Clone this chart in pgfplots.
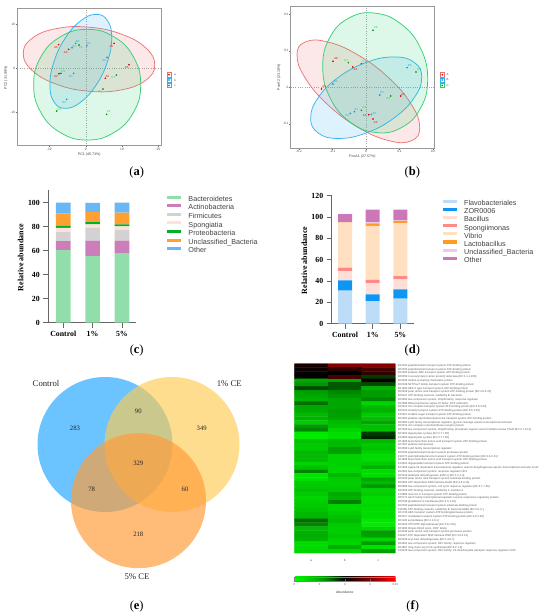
\documentclass[border=0pt]{standalone}
\usepackage{fontspec}
\usepackage{pgfplots}
\pgfplotsset{compat=1.18}
\setmainfont{Liberation Serif}
\newfontfamily\arial{Liberation Sans}
\usepgfplotslibrary{colormaps}

\definecolor{pcared}{RGB}{238,110,110}
\definecolor{pcablue}{RGB}{50,175,240}
\definecolor{pcagreen}{RGB}{45,205,110}
\definecolor{venna}{RGB}{57,176,255}
\definecolor{vennb}{RGB}{255,203,81}
\definecolor{vennc}{RGB}{255,156,56}
% bars (c)
\definecolor{cbact}{RGB}{146,222,170}
\definecolor{cacti}{RGB}{204,126,186}
\definecolor{cfirm}{RGB}{210,210,210}
\definecolor{cspon}{RGB}{255,225,218}
\definecolor{cprot}{RGB}{0,176,40}
\definecolor{cuncl}{RGB}{255,160,50}
\definecolor{coth}{RGB}{104,184,248}
% bars (d)
\definecolor{dflav}{RGB}{188,220,248}
\definecolor{dzor}{RGB}{15,150,245}
\definecolor{dbac}{RGB}{255,222,216}
\definecolor{dspo}{RGB}{255,136,136}
\definecolor{dvib}{RGB}{255,224,192}
\definecolor{dlac}{RGB}{255,155,35}
\definecolor{duncl}{RGB}{235,200,240}
\definecolor{doth}{RGB}{204,120,184}

\newcommand\ptlab[3]{\node[text=#3,font=\arial\fontsize{2.9}{3}\selectfont,inner sep=0pt] at (axis cs:#1) {#2};}

\pgfplotsset{
  pcaaxis/.style={
    scale only axis, anchor=south west,
    axis line style={draw=black!40,line width=1pt},
    tick style={draw=black!60,line width=.3pt},
    major tick length=1.5pt,
    tick align=outside, tick pos=left,
    ticklabel style={font=\arial\fontsize{3.2}{4}\selectfont,text=black!70,inner sep=.5pt},
    /pgf/number format/assume math mode=true,
    label style={font=\arial\fontsize{3.6}{4}\selectfont,text=black!75},
  },
  ell/.style={smooth cycle,tension=.75,line width=.75pt,draw=#1,fill=#1,fill opacity=.16,draw opacity=.95,mark=none},
  dot/.style={only marks,mark=*,mark size=.6pt,draw=#1,fill=#1},
  zero/.style={black!35,dotted,line width=.3pt,mark=none,forget plot},
  baraxis/.style={
    scale only axis, anchor=south west,
    ybar stacked, ymin=0,
    xtick={0,1,2}, xticklabels={Control,1\%,5\%},
    axis x line=bottom, axis y line=left,
    axis line style={-,draw=black!60,line width=1.1pt},
    tick style={draw=black!60,line width=.8pt},
    major tick length=5pt, tick align=outside,
    ticklabel style={font=\bfseries\fontsize{7.8}{9}\selectfont},
    /pgf/number format/assume math mode=true,
    ylabel={Relative abundance},
    ylabel style={font=\bfseries\fontsize{8}{9}\selectfont},
    legend cell align=left,
    legend style={draw=none,fill=none,inner sep=0pt,anchor=north west,
      font=\arial\fontsize{7.2}{8}\selectfont,text=black!75,
      nodes={inner sep=0pt,text height=5pt,text depth=1pt},
      /tikz/column 1/.style={column sep=7.6pt}},
  },
  lg/.style={draw=none,fill=#1,legend image code/.code={\fill[#1] (0pt,.7pt) rectangle (14pt,3.8pt);}},
  ov/.style={scale only axis, anchor=south west, at={(0pt,0pt)}, width=550pt, height=615pt,
    xmin=0, xmax=550, ymin=0, ymax=615, y dir=reverse, hide axis, clip=false},
}

\begin{document}
\begin{tikzpicture}[x=1pt,y=1pt]
\path[use as bounding box] (0,0) rectangle (550,615);

% (a) PCA
\begin{axis}[pcaaxis, at={(17.3pt,469pt)}, width=144pt, height=137pt,
  xmin=-18.8, xmax=20.8, ymin=-17.65, ymax=13.5,
  xtick={-10,0,10,20}, ytick={-10,0,10},
  xlabel={PC1 (45.73\%)}, ylabel={PC2 (31.99\%)},
  xlabel style={at={(axis description cs:.5,-.06)},anchor=center},
  ylabel style={at={(axis description cs:-.078,.4985)},anchor=center},
]
\addplot[zero] coordinates {(0,-17.65) (0,13.5)};
\addplot[zero] coordinates {(-18.8,0) (20.8,0)};
\addplot[ell=pcared] coordinates {(18.99,.79) (16.57,4.61) (9.96,7.74) (.92,9.36) (-8.12,9.03) (-14.73,6.83) (-17.15,3.37) (-14.73,-.45) (-8.12,-3.58) (.92,-5.20) (9.96,-4.87) (16.57,-2.67)};
\addplot[ell=pcablue] coordinates {(7.16,6.93) (6.02,10.84) (2.92,12.27) (-1.33,10.84) (-5.58,6.93) (-8.68,1.59) (-9.82,-3.75) (-8.68,-7.66) (-5.58,-9.09) (-1.33,-7.66) (2.92,-3.75) (6.02,1.59)};
\addplot[ell=pcagreen] coordinates {(15.13,-3.71) (13.16,2.58) (7.77,7.18) (.41,8.87) (-6.95,7.18) (-12.34,2.58) (-14.31,-3.71) (-12.34,-10.0) (-6.95,-14.6) (.41,-16.29) (7.77,-14.6) (13.16,-10.0)};
\addplot[dot=red!85!black] coordinates {(7.80,5.68) (-7.34,-1.21) (-4.68,4.32) (5.41,-2.27) (11.93,.83) (-7.43,5.38)};
\addplot[dot=pcablue!80!black] coordinates {(.28,5.15) (-2.75,5.68) (-3.76,4.70) (-5.23,-7.05) (5.87,2.50) (-3.30,-1.14)};
\addplot[dot=green!60!black] coordinates {(8.44,-1.52) (5.78,-10.45) (-6.79,-1.14) (4.77,-4.70) (-1.83,5.30) (-7.98,-9.70)};
\ptlab{7.06,5.08}{A1}{red}\ptlab{-8.17,-1.82}{A2}{red}\ptlab{-5.50,3.71}{A3}{red}
\ptlab{5.96,-1.82}{A4}{red}\ptlab{11.28,.23}{A5}{red}\ptlab{-8.17,4.70}{A6}{red}
\ptlab{.92,5.68}{B1}{pcablue}\ptlab{-2.20,6.14}{B2}{pcablue}\ptlab{-3.12,5.08}{B3}{pcablue}
\ptlab{-5.87,-7.65}{B4}{pcablue}\ptlab{5.14,1.89}{B5}{pcablue}\ptlab{-4.04,-1.74}{B6}{pcablue}
\ptlab{7.61,-2.12}{C1}{pcagreen}\ptlab{6.33,-9.92}{C2}{pcagreen}\ptlab{-6.15,-.68}{C3}{pcagreen}
\ptlab{3.94,-5.23}{C4}{pcagreen}\ptlab{-1.28,4.70}{C5}{pcagreen}\ptlab{-7.25,-9.24}{C6}{pcagreen}
\end{axis}

% (b) PCoA
\begin{axis}[pcaaxis, at={(290.7pt,466.7pt)}, width=143.3pt, height=142pt,
  xmin=-.225, xmax=.203, ymin=-.167, ymax=.222,
  xtick={-.2,-.1,0,.1,.2}, ytick={-.1,0,.1,.2},
  xticklabel style={/pgf/number format/fixed,/pgf/number format/precision=1},
  yticklabel style={/pgf/number format/fixed,/pgf/number format/precision=1},
  scaled ticks=false,
  xlabel={PcoA1 (27.57\%)}, ylabel={PcoA2 (23.18\%)},
  xlabel style={at={(axis description cs:.5,-.06)},anchor=center},
  ylabel style={at={(axis description cs:-.082,.5)},anchor=center},
]
\addplot[zero] coordinates {(0,-.167) (0,.222)};
\addplot[zero] coordinates {(-.225,0) (.203,0)};
\addplot[ell=pcared] coordinates {(.1602,-.110) (.1357,-.0473) (.0687,.0253) (-.0229,.0880) (-.1145,.1242) (-.1815,.1242) (-.2060,.0880) (-.1815,.0253) (-.1145,-.0473) (-.0229,-.110) (.0687,-.1462) (.1357,-.1462)};
\addplot[ell=pcablue] coordinates {(.1662,.0274) (.1440,.0682) (.0834,.0832) (.0005,.0682) (-.0824,.0274) (-.1430,-.0284) (-.1652,-.0842) (-.1430,-.1250) (-.0824,-.14) (.0005,-.1250) (.0834,-.0842) (.1440,-.0284)};
\addplot[ell=pcagreen] coordinates {(.1841,.0226) (.1631,.1066) (.1058,.1726) (.0274,.2032) (-.0510,.1899) (-.1083,.1363) (-.1293,.0570) (-.1083,-.0270) (-.0510,-.0930) (.0274,-.1236) (.1058,-.1103) (.1631,-.0567)};
\addplot[dot=red!85!black] coordinates {(-.0985,.0714) (-.0398,.0558) (-.1333,-.0046) (.0080,-.0750) (.0209,-.0869) (.1035,-.0238)};
\addplot[dot=pcablue!80!black] coordinates {(-.0985,.0091) (.0408,-.0210) (.1224,.0540) (-.0348,-.0668) (-.0468,-.0714) (.0159,-.0741)};
\addplot[dot=green!60!black] coordinates {(-.0527,.0677) (-.0139,.0650) (.0736,-.0238) (-.0139,-.0631) (.0209,.1565) (.1493,.0421)};
\ptlab{-.0040,-.0778}{A1}{red}\ptlab{.1104,-.0183}{A2}{red}\ptlab{.0289,-.0952}{A3}{red}
\ptlab{-.0318,.0485}{A4}{red}\ptlab{-.1254,.0009}{A5}{red}\ptlab{-.0896,.0778}{A6}{red}
\ptlab{-.0557,-.0778}{B1}{pcablue}\ptlab{-.0289,-.0604}{B2}{pcablue}\ptlab{.0259,-.0704}{B3}{pcablue}
\ptlab{.0478,-.0146}{B4}{pcablue}\ptlab{.1303,.0604}{B5}{pcablue}\ptlab{-.0896,.0156}{B6}{pcablue}
\ptlab{-.0597,.0732}{C1}{pcagreen}\ptlab{.0667,-.0311}{C2}{pcagreen}\ptlab{-.0050,-.0558}{C3}{pcagreen}
\ptlab{-.0060,.0704}{C4}{pcagreen}\ptlab{.1582,.0476}{C5}{pcagreen}\ptlab{.0289,.1638}{C6}{pcagreen}
\end{axis}

% (c) phyla
\begin{axis}[baraxis, at={(48.3pt,292.3pt)}, width=87.7pt, height=132.7pt,
  bar width=14.67pt, xmin=-.51, xmax=2.48, ymax=110.6, ytick={0,20,40,60,80,100},
  ylabel style={at={(axis description cs:-.315,.491)},anchor=center},
  legend style={at={(axis description cs:1.35,.96)},row sep=1.8pt},
]
\addplot[lg=cbact] coordinates {(0,60.5) (1,55.5) (2,57.5)};
\addplot[lg=cacti] coordinates {(0,7.5) (1,13) (2,11)};
\addplot[lg=cfirm] coordinates {(0,7.5) (1,10.5) (2,9)};
\addplot[lg=cspon] coordinates {(0,3.5) (1,3) (2,2.8)};
\addplot[lg=cprot] coordinates {(0,2) (1,1.8) (2,1.7)};
\addplot[lg=cuncl] coordinates {(0,10) (1,8.5) (2,9.7)};
\addplot[lg=coth] coordinates {(0,9) (1,7.5) (2,8.3)};
\legend{Bacteroidetes,Actinobacteria,Firmicutes,Spongiatia,Proteobacteria,Unclassified\_Bacteria,Other}
\end{axis}

% (d) genera
\begin{axis}[baraxis, at={(331.7pt,291.3pt)}, width=82.6pt, height=128pt,
  bar width=14pt, xmin=-.48, xmax=2.5, ymax=120, ytick={0,20,40,60,80,100,120},
  ylabel style={at={(axis description cs:-.332,.495)},anchor=center},
  legend style={at={(axis description cs:1.339,.968)},row sep=1.3pt},
]
\addplot[lg=dflav] coordinates {(0,31) (1,21) (2,23.4)};
\addplot[lg=dzor] coordinates {(0,9.6) (1,6.5) (2,8.8)};
\addplot[lg=dbac] coordinates {(0,8.8) (1,10.6) (2,9.4)};
\addplot[lg=dspo] coordinates {(0,3.1) (1,2.9) (2,3.1)};
\addplot[lg=dvib] coordinates {(0,42.2) (1,50.6) (2,49.7)};
\addplot[lg=dlac] coordinates {(0,.3) (1,2.4) (2,1.9)};
\addplot[lg=duncl] coordinates {(0,.3) (1,.9) (2,.9)};
\addplot[lg=doth] coordinates {(0,7.5) (1,12) (2,9.8)};
\legend{Flavobacteriales,ZOR0006,Bacillus,Spongiimonas,Vibrio,Lactobacillus,Unclassified\_Bacteria,Other}
\end{axis}

% (f) heatmap
\begin{axis}[scale only axis, anchor=south west, at={(294.3pt,62pt)}, width=101pt, height=189.3pt,
  y dir=reverse, xmin=.5, xmax=3.5, ymin=.5, ymax=50.5,
  axis line style={draw=none}, tick style={draw=none}, major tick length=0pt,
  xtick={1,2,3}, xticklabels={a,b,c},
  xticklabel pos=lower, yticklabel pos=right,
  xticklabel style={font=\arial\fontsize{3}{3}\selectfont,text=black!70,yshift=-3pt},
  ytick={1,...,50},
  yticklabel style={font=\arial\fontsize{2.75}{3}\selectfont,text=black!65,anchor=west,inner sep=0pt,xshift=2.4pt},
  yticklabels={
{K02031 peptide/nickel transport system ATP-binding protein},
{K02032 peptide/nickel transport system ATP-binding protein},
{K02003 putative ABC transport system ATP-binding protein},
{K00059 3-oxoacyl-[acyl-carrier protein] reductase [EC:1.1.1.100]},
{K03406 methyl-accepting chemotaxis protein},
{K02049 NitT/TauT family transport system ATP-binding protein},
{K01990 ABC-2 type transport system ATP-binding protein},
{K02028 polar amino acid transport system ATP-binding protein [EC:3.6.3.21]},
{K06147 ATP-binding cassette, subfamily B, bacterial},
{K02483 two-component system, OmpR family, response regulator},
{K03088 RNA polymerase sigma-70 factor, ECF subfamily},
{K02013 iron complex transport system ATP-binding protein [EC:3.6.3.34]},
{K02010 iron(III) transport system ATP-binding protein [EC:3.6.3.30]},
{K10112 multiple sugar transport system ATP-binding protein},
{K02052 putative spermidine/putrescine transport system ATP-binding protein},
{K02660 LysR family transcriptional regulator, glycine cleavage system transcriptional activator},
{K02014 iron complex outermembrane receptor protein},
{K07636 two-component system, OmpR family, phosphate regulon sensor histidine kinase PhoR [EC:2.7.13.3]},
{K01923 diguanylate cyclase [EC:2.7.7.65]},
{K13590 diguanylate cyclase [EC:2.7.7.65]},
{K01995 branched-chain amino acid transport system ATP-binding protein},
{K07497 putative transposase},
{K03566 LysR family transcriptional regulator},
{K02033 peptide/nickel transport system permease protein},
{K11072 spermidine/putrescine transport system ATP-binding protein [EC:3.6.3.31]},
{K01996 branched-chain amino acid transport system ATP-binding protein},
{K15823 oligopeptide transport system ATP-binding protein},
{K21405 sigma-54 dependent transcriptional regulator, acetoin dehydrogenase operon transcriptional activator AcoR},
{K02481 two-component system, response regulator NtrX},
{K00128 aldehyde dehydrogenase (NAD+) [EC:1.2.1.3]},
{K02030 polar amino acid transport system substrate-binding protein},
{K05592 ATP-dependent RNA helicase DeaD [EC:3.6.4.13]},
{K02668 two-component system, cell cycle response regulator [EC:2.7.7.65]},
{K06158 ATP-binding cassette, subfamily F, member 3},
{K13896 microcin C transport system ATP-binding protein},
{K05771 AsnC family transcriptional regulator, leucine-responsive regulatory protein},
{K00799 glutathione S-transferase [EC:2.5.1.18]},
{K02035 peptide/nickel transport system substrate-binding protein},
{K11085 ATP-binding cassette, subfamily B, bacterial MsbA [EC:3.6.3.-]},
{K01736 ABC transport system ATP-binding/permease protein},
{K02017 molybdate transport system ATP-binding protein [EC:3.6.3.29]},
{K01130 arylsulfatase [EC:3.1.6.1]},
{K02428 XTP/dITP diphosphatase [EC:3.6.1.66]},
{K03286 OmpA-OmpF porin, OOP family},
{K02029 polar amino acid transport system permease protein},
{K11927 ATP-dependent RNA helicase RhlE [EC:3.6.4.13]},
{K00249 acyl-CoA dehydrogenase [EC:1.3.8.7]},
{K02481 two-component system, NtrC family, response regulator},
{K01897 long-chain acyl-CoA synthetase [EC:6.2.1.3]},
{K10126 two-component system, NtrC family, C4-dicarboxylate transport response regulator DctD}},
  colormap={gbr}{rgb255(0cm)=(0,255,0); rgb255(6cm)=(0,150,0); rgb255(10cm)=(0,0,0); rgb255(20cm)=(255,0,0)},
  point meta min=0, point meta max=1,
  colorbar horizontal,
  colorbar style={
    at={(0,-.125)}, anchor=north west, width=101pt, height=4.3pt,
    xtick={0,.25,.5,.75,1}, xticklabels={0,0,0,0,0.01},
    axis line style={draw=black!50,line width=.3pt}, tick style={draw=black!60,line width=.25pt},
    major tick length=1.5pt, xticklabel pos=lower,
    xticklabel style={font=\arial\fontsize{2.8}{3}\selectfont,text=black!70,yshift=.5pt},
    xlabel={Abundance},
    xlabel style={font=\arial\fontsize{3.4}{4}\selectfont,text=black!75,yshift=1.5pt},
  },
]
\addplot[matrix plot*, mesh/cols=3, point meta=explicit] coordinates {
(1,1)[.55] (2,1)[.76] (3,1)[.76]
(1,2)[.52] (2,2)[.60] (3,2)[.63]
(1,3)[.50] (2,3)[.50] (3,3)[.60]
(1,4)[.50] (2,4)[.64] (3,4)[.42]
(1,5)[.25] (2,5)[.25] (3,5)[.53]
(1,6)[.30] (2,6)[.38] (3,6)[.40]
(1,7)[.40] (2,7)[.38] (3,7)[.22]
(1,8)[.28] (2,8)[.32] (3,8)[.28]
(1,9)[.25] (2,9)[.30] (3,9)[.28]
(1,10)[.22] (2,10)[.25] (3,10)[.32]
(1,11)[.35] (2,11)[.25] (3,11)[.12]
(1,12)[.25] (2,12)[.25] (3,12)[.20]
(1,13)[.24] (2,13)[.28] (3,13)[.22]
(1,14)[.20] (2,14)[.27] (3,14)[.15]
(1,15)[.22] (2,15)[.25] (3,15)[.18]
(1,16)[.15] (2,16)[.20] (3,16)[.25]
(1,17)[.28] (2,17)[.17] (3,17)[.18]
(1,18)[.32] (2,18)[.12] (3,18)[.18]
(1,19)[.06] (2,19)[.09] (3,19)[.42]
(1,20)[.06] (2,20)[.09] (3,20)[.45]
(1,21)[.18] (2,21)[.20] (3,21)[.20]
(1,22)[.15] (2,22)[.20] (3,22)[.15]
(1,23)[.15] (2,23)[.27] (3,23)[.17]
(1,24)[.20] (2,24)[.27] (3,24)[.13]
(1,25)[.20] (2,25)[.13] (3,25)[.10]
(1,26)[.20] (2,26)[.13] (3,26)[.10]
(1,27)[.12] (2,27)[.13] (3,27)[.15]
(1,28)[.18] (2,28)[.12] (3,28)[.22]
(1,29)[.32] (2,29)[.12] (3,29)[.10]
(1,30)[.08] (2,30)[.20] (3,30)[.10]
(1,31)[.08] (2,31)[.15] (3,31)[.25]
(1,32)[.15] (2,32)[.14] (3,32)[.20]
(1,33)[.15] (2,33)[.15] (3,33)[.30]
(1,34)[.18] (2,34)[.16] (3,34)[.12]
(1,35)[.15] (2,35)[.24] (3,35)[.14]
(1,36)[.12] (2,36)[.22] (3,36)[.10]
(1,37)[.14] (2,37)[.33] (3,37)[.10]
(1,38)[.15] (2,38)[.12] (3,38)[.12]
(1,39)[.17] (2,39)[.12] (3,39)[.10]
(1,40)[.20] (2,40)[.15] (3,40)[.10]
(1,41)[.20] (2,41)[.18] (3,41)[.10]
(1,42)[.36] (2,42)[.20] (3,42)[.06]
(1,43)[.32] (2,43)[.15] (3,43)[.05]
(1,44)[.20] (2,44)[.14] (3,44)[.12]
(1,45)[.22] (2,45)[.14] (3,45)[.27]
(1,46)[.23] (2,46)[.16] (3,46)[.27]
(1,47)[.22] (2,47)[.13] (3,47)[.12]
(1,48)[.10] (2,48)[.12] (3,48)[.28]
(1,49)[.10] (2,49)[.22] (3,49)[.08]
(1,50)[.12] (2,50)[.12] (3,50)[.27]
};
\end{axis}

% overlay in pixel coordinates: Venn (e), small legend keys
\begin{axis}[ov]
\addplot[only marks,mark=*,mark size=67.5pt,mark options={draw=venna,draw opacity=0,line width=0pt,fill=venna,fill opacity=.75}] coordinates {(105,444.5)};
\addplot[only marks,mark=*,mark size=67.5pt,mark options={draw=vennb,draw opacity=0,line width=0pt,fill=vennb,fill opacity=.65}] coordinates {(172,444.5)};
\addplot[only marks,mark=*,mark size=67.5pt,mark options={draw=vennc,draw opacity=0,line width=0pt,fill=vennc,fill opacity=.68}] coordinates {(138.5,500.7)};
\addplot[only marks,mark=square,mark size=2.2pt,mark options={draw=pcared,line width=.4pt}] coordinates {(169,74.7) (442.3,74.7)};
\addplot[only marks,mark=square,mark size=2.2pt,mark options={draw=pcablue,line width=.4pt}] coordinates {(169,80) (442.3,80)};
\addplot[only marks,mark=square,mark size=2.2pt,mark options={draw=pcagreen,line width=.4pt}] coordinates {(169,85.5) (442.3,85.5)};
\addplot[dot=red!85!black] coordinates {(169,74.7) (442.3,74.7)};
\addplot[dot=pcablue!80!black] coordinates {(169,80) (442.3,80)};
\addplot[dot=green!60!black] coordinates {(169,85.5) (442.3,85.5)};
\end{axis}

% texts of the overlay, on top of the circles
\begin{axis}[ov]
\addplot[draw=none,mark=none,forget plot] coordinates {(0,0) (550,615)};
\foreach \xx/\yy/\tt in {175/74.7/a,175/80/b,175/85.5/c,447.7/74.7/A,447.7/80/B,447.7/85.5/C}{
  \edef\tmp{\noexpand\node[font=\noexpand\arial\noexpand\fontsize{2.9}{3}\noexpand\selectfont,text=black!70,inner sep=0pt] at (axis cs:\xx,\yy) {\tt};}\tmp
}
\foreach \xx/\yy/\tt in {75/428/283,138.3/411/90,201.7/428/349,138.3/463.3/329,91.7/489.7/78,185/489.7/60,138.3/534.7/218}{
  \edef\tmp{\noexpand\node[font=\noexpand\fontsize{6.7}{8}\noexpand\selectfont,text=black!85,inner sep=0pt] at (axis cs:\xx,\yy) {\tt};}\tmp
}
\node[font=\fontsize{8.7}{10}\selectfont,text=black!85,inner sep=0pt] at (axis cs:46,384) {Control};
\node[font=\fontsize{8.7}{10}\selectfont,text=black!85,inner sep=0pt] at (axis cs:229.3,384) {1\% CE};
\node[font=\fontsize{8.7}{10}\selectfont,text=black!85,inner sep=0pt] at (axis cs:137,576.7) {5\% CE};
\foreach \xx/\yy/\tt in {136.7/172.3/a,412.3/172.3/b,136.7/350.7/c,412.3/350.7/d,136.7/606.7/e,412.7/606.2/f}{
  \edef\tmp{\noexpand\node[font=\noexpand\fontsize{12.5}{14}\noexpand\selectfont,inner sep=0pt] at (axis cs:\xx,\yy) {(\noexpand\textbf{\tt})};}\tmp
}
\end{axis}
\end{tikzpicture}
\end{document}
